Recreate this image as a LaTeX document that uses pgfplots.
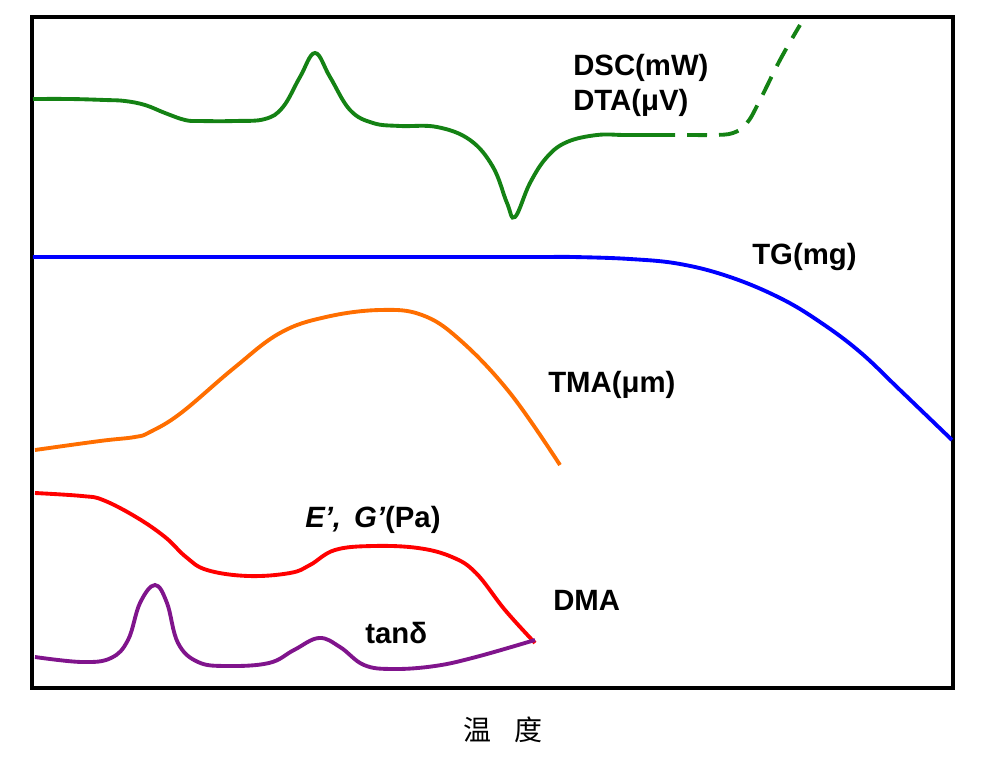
\documentclass[border=0pt]{standalone}
\usepackage{pgfplots}
\pgfplotsset{compat=1.18}
\usepackage{fontspec}
\setmainfont{Liberation Sans}
\newfontfamily\cjk{Noto Sans CJK SC}
\definecolor{dscgreen}{RGB}{20,130,20}
\definecolor{tgblue}{RGB}{0,0,255}
\definecolor{tmaorange}{RGB}{255,110,0}
\definecolor{dmared}{RGB}{255,0,0}
\definecolor{tanpurple}{RGB}{128,20,140}
\tikzset{lbl/.style={font=\fontsize{22}{26}\selectfont\bfseries, inner sep=0pt}}
\begin{document}
\begin{tikzpicture}
\begin{axis}[name=ax,
  scale only axis, width=690.75pt, height=503.25pt,
  at={(0,0)}, anchor=south west,
  xmin=32, xmax=953, ymin=17, ymax=688, y dir=reverse,
  xtick=\empty, ytick=\empty,
  axis line style={line width=3.2pt},
  clip=false,
  every axis plot/.append style={line width=2.9pt, smooth, tension=0.65},
]
% DSC/DTA solid
\addplot[dscgreen] coordinates {
(33,99) (70,99) (105,100) (125,101) (145,105) (165,113) (185,120) (200,121) (235,121) (265,119) (283,107) (300,77) (315,53) (330,77) (350,110) (373,123) (400,126) (437,127) (470,140) (493,167) (507,203) (515,217) (530,183) (547,157) (567,142) (597,135) (625,135) (655,135)};
% DSC/DTA dashed
\addplot[dscgreen, dash pattern=on 15pt off 9pt] coordinates {
(655,135) (690,135) (713,135) (733,133) (747,123) (760,100) (780,60) (800,25)};
% TG
\addplot[tgblue] coordinates {
(33,257) (150,257) (300,257) (450,257) (540,257) (573,257) (630,259) (680,264) (730,277) (780,298) (820,322) (860,352) (900,390) (952,440)};
% TMA
\addplot[tmaorange] coordinates {
(35,450) (100,441) (135,437) (150,432) (181,413) (234,368) (280,333) (326,317) (380,310) (422,315) (460,340) (510,393) (560,465)};
% E', G'
\addplot[dmared] coordinates {
(35,493) (82,496) (103,500) (136,517) (165,537) (186,557) (207,570) (248,576) (290,573) (310,565) (335,550) (373,546) (418,548) (452,557) (476,573) (505,610) (535,643)};
% tan delta
\addplot[tanpurple] coordinates {
(35,657) (82,662) (111,658) (128,640) (140,603) (155,585) (167,603) (178,643) (198,662) (227,666) (269,663) (294,650) (319,638) (340,647) (364,665) (393,669) (435,666) (476,657) (535,640)};
\node[lbl, anchor=west] at (axis cs:573,68) {DSC(mW)};
\node[lbl, anchor=west] at (axis cs:573,103) {DTA(μV)};
\node[lbl, anchor=west] at (axis cs:752,257) {TG(mg)};
\node[lbl, anchor=west] at (axis cs:548,385) {TMA(μm)};
\node[lbl, anchor=west] at (axis cs:305,520) {\itshape E’,\, G’\upshape(Pa)};
\node[lbl, anchor=west] at (axis cs:553,600) {DMA};
\node[lbl, anchor=west] at (axis cs:365,633) {tanδ};
\node[font=\cjk\fontsize{21}{24}\selectfont, inner sep=0pt] at (axis cs:503,730) {温\hspace{0.85em}度};
\end{axis}
\path[use as bounding box] ([xshift=-24pt,yshift=-54pt]ax.south west) rectangle ([xshift=27.75pt,yshift=12.75pt]ax.north east);
\end{tikzpicture}
\end{document}
